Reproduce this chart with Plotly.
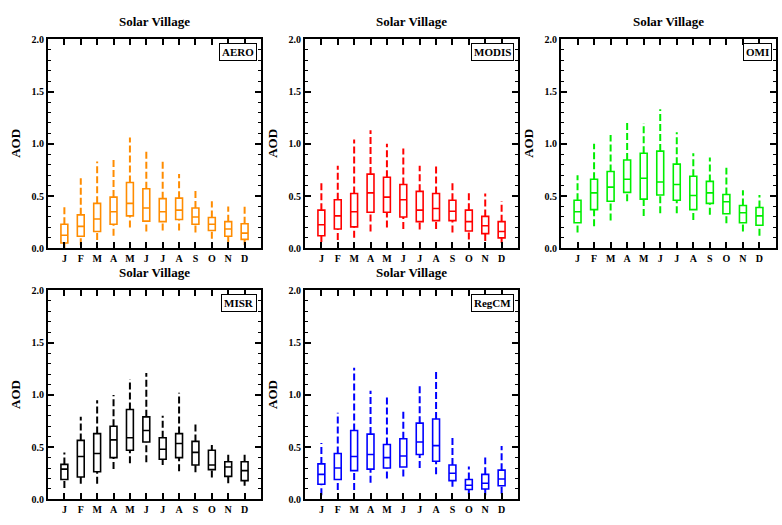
import plotly.graph_objects as go

months = ["J", "F", "M", "A", "M", "J", "J", "A", "S", "O", "N", "D"]
pos = list(range(1, 13))

# AERO (orange)
aero_low = [0.00, 0.03, 0.08, 0.12, 0.20, 0.16, 0.17, 0.17, 0.15, 0.09, 0.06, 0.03]
aero_q1 = [0.05, 0.115, 0.16, 0.23, 0.31, 0.26, 0.255, 0.275, 0.23, 0.17, 0.115, 0.085]
aero_med = [0.125, 0.21, 0.28, 0.35, 0.43, 0.385, 0.35, 0.365, 0.30, 0.23, 0.185, 0.145]
aero_q3 = [0.23, 0.32, 0.43, 0.49, 0.63, 0.57, 0.475, 0.48, 0.385, 0.295, 0.255, 0.235]
aero_high = [0.41, 0.67, 0.83, 0.85, 1.06, 0.94, 0.83, 0.71, 0.55, 0.45, 0.40, 0.41]

# MODIS (red)
modis_low = [0.06, 0.08, 0.10, 0.16, 0.20, 0.185, 0.18, 0.185, 0.15, 0.085, 0.07, 0.05]
modis_q1 = [0.12, 0.185, 0.205, 0.345, 0.345, 0.30, 0.255, 0.265, 0.265, 0.165, 0.14, 0.10]
modis_med = [0.225, 0.31, 0.35, 0.53, 0.49, 0.465, 0.365, 0.38, 0.355, 0.255, 0.215, 0.16]
modis_q3 = [0.365, 0.465, 0.525, 0.71, 0.68, 0.61, 0.545, 0.525, 0.46, 0.365, 0.305, 0.255]
modis_high = [0.645, 0.79, 1.04, 1.13, 1.00, 0.955, 0.79, 0.81, 0.645, 0.53, 0.525, 0.45]

# OMI (green)
omi_low = [0.15, 0.21, 0.265, 0.45, 0.31, 0.335, 0.335, 0.27, 0.32, 0.24, 0.16, 0.12]
omi_q1 = [0.245, 0.37, 0.45, 0.535, 0.47, 0.51, 0.46, 0.37, 0.43, 0.33, 0.245, 0.22]
omi_med = [0.35, 0.53, 0.585, 0.66, 0.67, 0.635, 0.61, 0.505, 0.53, 0.445, 0.34, 0.31]
omi_q3 = [0.46, 0.66, 0.735, 0.845, 0.91, 0.93, 0.805, 0.69, 0.64, 0.515, 0.41, 0.39]
omi_high = [0.70, 1.00, 1.085, 1.20, 1.20, 1.33, 1.11, 0.91, 0.87, 0.77, 0.555, 0.51]

# MISR (black)
misr_low = [0.11, 0.15, 0.15, 0.29, 0.345, 0.355, 0.33, 0.27, 0.26, 0.21, 0.155, 0.13]
misr_q1 = [0.19, 0.215, 0.265, 0.40, 0.47, 0.55, 0.385, 0.40, 0.33, 0.285, 0.22, 0.18]
misr_med = [0.29, 0.41, 0.44, 0.57, 0.59, 0.66, 0.48, 0.535, 0.45, 0.33, 0.31, 0.275]
misr_q3 = [0.335, 0.565, 0.63, 0.70, 0.86, 0.79, 0.59, 0.63, 0.555, 0.47, 0.36, 0.36]
misr_high = [0.45, 0.79, 0.95, 1.00, 1.15, 1.21, 0.80, 1.02, 0.735, 0.52, 0.43, 0.455]

# RegCM (blue)
regcm_low = [0.04, 0.09, 0.09, 0.16, 0.20, 0.22, 0.30, 0.24, 0.12, 0.05, 0.04, 0.055]
regcm_q1 = [0.145, 0.19, 0.275, 0.29, 0.30, 0.31, 0.43, 0.365, 0.18, 0.095, 0.10, 0.13]
regcm_med = [0.24, 0.30, 0.41, 0.43, 0.40, 0.415, 0.55, 0.515, 0.25, 0.135, 0.155, 0.195]
regcm_q3 = [0.34, 0.44, 0.66, 0.625, 0.525, 0.58, 0.73, 0.77, 0.33, 0.19, 0.24, 0.28]
regcm_high = [0.54, 0.83, 1.26, 1.04, 1.00, 0.855, 1.10, 1.23, 0.61, 0.315, 0.40, 0.51]

panels = [
    ("AERO", "#ff8c00", aero_low, aero_q1, aero_med, aero_q3, aero_high),
    ("MODIS", "#ff0000", modis_low, modis_q1, modis_med, modis_q3, modis_high),
    ("OMI", "#00ee00", omi_low, omi_q1, omi_med, omi_q3, omi_high),
    ("MISR", "#000000", misr_low, misr_q1, misr_med, misr_q3, misr_high),
    ("RegCM", "#0000ff", regcm_low, regcm_q1, regcm_med, regcm_q3, regcm_high),
]

W, H = 782, 525
# pixel frames (left, right, top, bottom)
frames = [
    (48, 261, 35, 248),
    (305, 518, 35, 248),
    (561, 776, 35, 248),
    (48, 261, 291, 504),
    (305, 518, 291, 504),
]

SERIF = "Liberation Serif, Times New Roman, serif"
fig = go.Figure()
layout = dict(
    width=W, height=H, margin=dict(l=0, r=0, t=0, b=0),
    paper_bgcolor="white", plot_bgcolor="white", showlegend=False,
    font=dict(family=SERIF, color="black"),
)
annotations = []

for i, (name, color, lo, q1, med, q3, hi) in enumerate(panels):
    n = i + 1
    xa = "x" if n == 1 else f"x{n}"
    ya = "y" if n == 1 else f"y{n}"
    # dashed whiskers
    wx, wy = [], []
    for p, a, b, c, d in zip(pos, lo, q1, q3, hi):
        wx += [p, p, None, p, p, None]
        wy += [a, b, None, c, d, None]
    fig.add_trace(go.Scatter(
        x=wx, y=wy, mode="lines", xaxis=xa, yaxis=ya,
        line=dict(color=color, width=2, dash="7px,3px"), hoverinfo="skip"))
    fig.add_trace(go.Box(
        x=pos, q1=q1, median=med, q3=q3, lowerfence=q1, upperfence=q3,
        xaxis=xa, yaxis=ya, width=0.42, whiskerwidth=0,
        line=dict(color=color, width=1.6), fillcolor="rgba(255,255,255,0)",
        boxpoints=False))
    l, r, t, b = frames[i]
    axkey = "xaxis" if n == 1 else f"xaxis{n}"
    aykey = "yaxis" if n == 1 else f"yaxis{n}"
    layout[axkey] = dict(
        domain=[l / W, r / W], anchor=ya, range=[0, 13],
        tickvals=pos, ticktext=months, ticks="inside", ticklen=6, tickwidth=1.5,
        tickcolor="black", showline=True, linewidth=2, linecolor="black",
        mirror="allticks", showgrid=False, zeroline=False,
        tickfont=dict(family=SERIF, size=10, color="black", weight="bold"))
    layout[aykey] = dict(
        domain=[1 - b / H, 1 - t / H], anchor=xa, range=[0, 2],
        tickvals=[0, 0.5, 1.0, 1.5, 2.0], ticktext=["0.0", "0.5", "1.0", "1.5", "2.0"],
        ticks="inside", ticklen=6, tickwidth=1.5, tickcolor="black",
        minor=dict(tickvals=[k / 10 for k in range(21)], ticks="inside", ticklen=3,
                   tickwidth=1.2, tickcolor="black"),
        showline=True, linewidth=2, linecolor="black", mirror="allticks",
        showgrid=False, zeroline=False,
        tickfont=dict(family=SERIF, size=10, color="black", weight="bold"))
    # title
    annotations.append(dict(
        text="<b>Solar Village</b>", x=(l + r) / 2 / W, y=1 - (t - 18) / H,
        xref="paper", yref="paper", xanchor="center", yanchor="middle",
        showarrow=False, font=dict(family=SERIF, size=13, color="black")))
    # y title
    annotations.append(dict(
        text="<b>AOD</b>", x=(l - 32) / W, y=1 - ((t + b) / 2) / H,
        xref="paper", yref="paper", xanchor="center", yanchor="middle",
        textangle=-90, showarrow=False, font=dict(family=SERIF, size=13, color="black")))
    # dataset label
    annotations.append(dict(
        text=f"<b>{name}</b>", x=1, y=1, xref=f"{xa} domain", yref=f"{ya} domain",
        xanchor="right", yanchor="top", xshift=-4, yshift=-4, showarrow=False,
        bordercolor="black", borderwidth=1, borderpad=2, bgcolor="white",
        font=dict(family=SERIF, size=11, color="black")))

layout["annotations"] = annotations
fig.update_layout(**layout)
fig.write_html("out.html")
